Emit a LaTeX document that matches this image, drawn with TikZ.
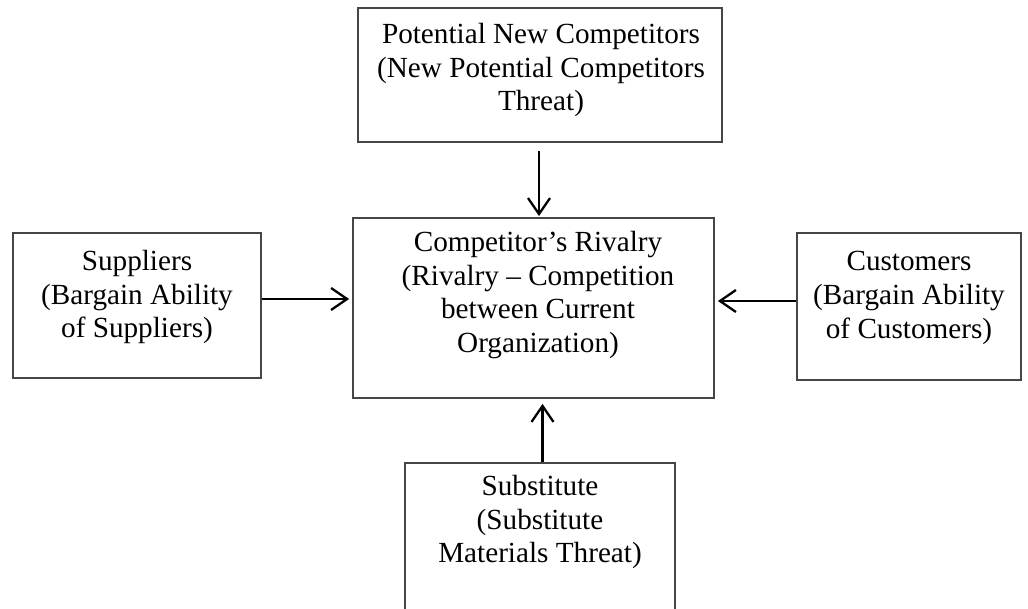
\documentclass[tikz,border=0pt]{standalone}
\usepackage{fontspec}
\setmainfont{Liberation Serif}
\usetikzlibrary{arrows.meta,calc}
\definecolor{boxgray}{RGB}{70,70,70}
\tikzset{
  box/.style={draw=boxgray, line width=1.8pt, inner sep=0pt},
  txt/.style={align=center, inner sep=0pt, font=\fontsize{29.2}{33.8}\selectfont},
  arr/.style={draw=black, line width=2.3pt, -{Straight Barb[length=16pt,width=22pt]}}
}
\begin{document}
\begin{tikzpicture}[x=1pt,y=-1pt]
\useasboundingbox (0,0) rectangle (1028,609);
\clip (0,0) rectangle (1028,609);
% boxes
\node[box, minimum width=364pt, minimum height=134pt] (top) at (540,75) {};
\node[box, minimum width=361pt, minimum height=180pt] (center) at (533.5,308) {};
\node[box, minimum width=248pt, minimum height=145pt] (left) at (137,305.5) {};
\node[box, minimum width=224pt, minimum height=147pt] (right) at (909,306.5) {};
\node[box, minimum width=270pt, minimum height=237pt] (bottom) at (540,581.5) {};
% texts
\node[txt] (topT) at (541,70) {Potential New Competitors\\(New Potential Competitors\\Threat)};
\node[txt] (centerT) at (538,295) {Competitor’s Rivalry\\(Rivalry – Competition\\between Current\\Organization)};
\node[txt] (leftT) at (137,297) {Suppliers\\(Bargain Ability\\of Suppliers)};
\node[txt] (rightT) at (909,298) {Customers\\(Bargain Ability\\of Customers)};
\node[txt] (bottomT) at (540,522) {Substitute\\(Substitute\\Materials Threat)};
% connectors
\coordinate (ta) at ([xshift=-1pt,yshift=-8pt]top.south);
\draw[arr, shorten >=1pt] (ta) -- (ta |- center.north);
\coordinate (la) at ([yshift=6.5pt]left.east);
\draw[arr, shorten >=3pt] (la) -- (center.west |- la);
\coordinate (ra) at ([yshift=5.5pt]right.west);
\draw[arr, shorten >=3pt] (ra) -- (center.east |- ra);
\coordinate (ba) at ([xshift=2.5pt]bottom.north);
\draw[arr, shorten >=5pt] (ba) -- (ba |- center.south);
\end{tikzpicture}
\end{document}
